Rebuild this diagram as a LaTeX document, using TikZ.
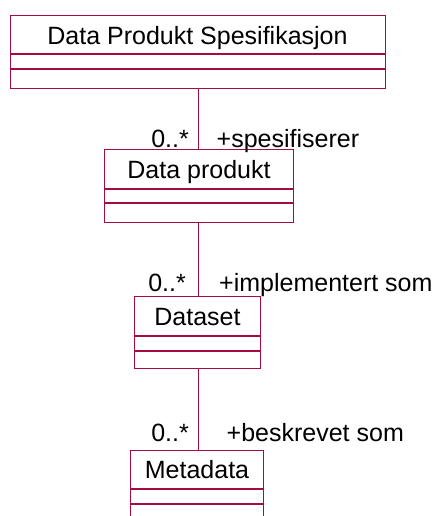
\documentclass[tikz,border=0pt]{standalone}
\usepackage{fontspec}
\setmainfont{Liberation Sans}
\definecolor{umlred}{RGB}{165,10,65}
\begin{document}
\begin{tikzpicture}[x=1pt,y=1pt,
  namebox/.style={draw=umlred, line width=1pt, rectangle, inner sep=0pt, text height=19pt, text depth=0pt, font=\fontsize{25}{30}\selectfont, text=black},
  compbox/.style={draw=umlred, line width=1pt, rectangle, inner sep=0pt, anchor=north},
  assoc/.style={draw=umlred, line width=1pt},
  lbl/.style={inner sep=0pt, font=\fontsize{25}{30}\selectfont, text=black}]
\useasboundingbox (0,0) rectangle (434,516);
% Data Produkt Spesifikasjon
\node[namebox, minimum width=375pt, minimum height=38pt] (dps) at (197.5,481) {Data Produkt Spesifikasjon};
\node[compbox, minimum width=375pt, minimum height=14pt] (dpsA) at (dps.south) {};
\node[compbox, minimum width=375pt, minimum height=19pt] (dpsO) at (dpsA.south) {};
% Data produkt
\node[namebox, minimum width=189pt, minimum height=39pt] (dp) at (199,346.5) {Data produkt};
\node[compbox, minimum width=189pt, minimum height=13pt] (dpA) at (dp.south) {};
\node[compbox, minimum width=189pt, minimum height=19pt] (dpO) at (dpA.south) {};
% Dataset
\node[namebox, minimum width=125.6pt, minimum height=39pt] (ds) at (197.5,199.8) {Dataset};
\node[compbox, minimum width=125.6pt, minimum height=13.6pt] (dsA) at (ds.south) {};
\node[compbox, minimum width=125.6pt, minimum height=17.7pt] (dsO) at (dsA.south) {};
% Metadata
\node[namebox, minimum width=133.4pt, minimum height=38.4pt] (md) at (197,46.5) {Metadata};
\node[compbox, minimum width=133.4pt, minimum height=13.6pt] (mdA) at (md.south) {};
\node[compbox, minimum width=133.4pt, minimum height=24pt] (mdO) at (mdA.south) {};
% associations
\coordinate (c1) at (198.7,0 |- dpsO.south);
\coordinate (c2) at (198.7,0 |- dpO.south);
\coordinate (c3) at (198,0 |- dsO.south);
\draw[assoc] (c1) -- (c1 |- dp.north);
\draw[assoc] (c2) -- (c2 |- ds.north);
\draw[assoc] (c3) -- (c3 |- md.north);
% labels
\node[lbl, anchor=base east] (m1) at (189,368) {0..*};
\node[lbl, anchor=base west] (r1) at (216.5,368) {+spesifiserer};
\node[lbl, anchor=base east] (m2) at (186,224) {0..*};
\node[lbl, anchor=base west] (r2) at (219,224) {+implementert som};
\node[lbl, anchor=base east] (m3) at (189,74) {0..*};
\node[lbl, anchor=base west] (r3) at (226.5,74) {+beskrevet som};
\end{tikzpicture}
\end{document}
